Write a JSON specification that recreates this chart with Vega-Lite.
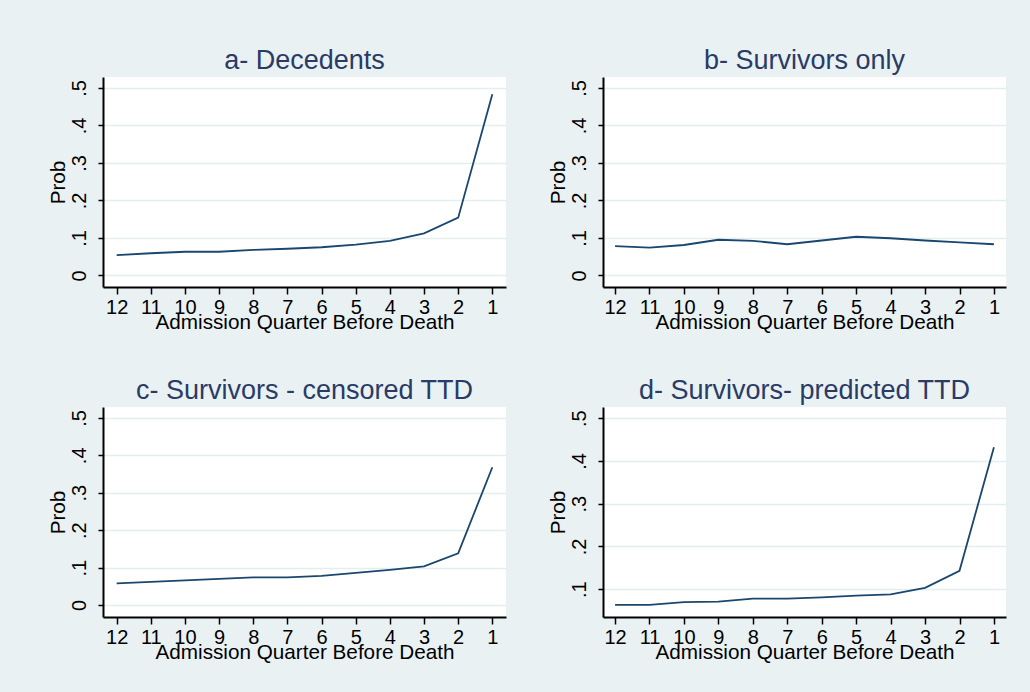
{
  "$schema": "https://vega.github.io/schema/vega-lite/v6.json",
  "background": "#e9f1f3",
  "padding": {"left": 47, "top": 46, "right": 26, "bottom": 30},
  "datasets": {
    "a": [
      {"q": 12, "prob": 0.054}, {"q": 11, "prob": 0.059}, {"q": 10, "prob": 0.063}, {"q": 9, "prob": 0.063},
      {"q": 8, "prob": 0.068}, {"q": 7, "prob": 0.071}, {"q": 6, "prob": 0.075}, {"q": 5, "prob": 0.082},
      {"q": 4, "prob": 0.092}, {"q": 3, "prob": 0.112}, {"q": 2, "prob": 0.154}, {"q": 1, "prob": 0.483}
    ],
    "b": [
      {"q": 12, "prob": 0.078}, {"q": 11, "prob": 0.074}, {"q": 10, "prob": 0.081}, {"q": 9, "prob": 0.095},
      {"q": 8, "prob": 0.092}, {"q": 7, "prob": 0.083}, {"q": 6, "prob": 0.093}, {"q": 5, "prob": 0.103},
      {"q": 4, "prob": 0.099}, {"q": 3, "prob": 0.093}, {"q": 2, "prob": 0.088}, {"q": 1, "prob": 0.083}
    ],
    "c": [
      {"q": 12, "prob": 0.058}, {"q": 11, "prob": 0.062}, {"q": 10, "prob": 0.066}, {"q": 9, "prob": 0.070},
      {"q": 8, "prob": 0.074}, {"q": 7, "prob": 0.074}, {"q": 6, "prob": 0.078}, {"q": 5, "prob": 0.086},
      {"q": 4, "prob": 0.094}, {"q": 3, "prob": 0.103}, {"q": 2, "prob": 0.138}, {"q": 1, "prob": 0.368}
    ],
    "d": [
      {"q": 12, "prob": 0.0635}, {"q": 11, "prob": 0.0635}, {"q": 10, "prob": 0.070}, {"q": 9, "prob": 0.071},
      {"q": 8, "prob": 0.078}, {"q": 7, "prob": 0.078}, {"q": 6, "prob": 0.081}, {"q": 5, "prob": 0.085},
      {"q": 4, "prob": 0.088}, {"q": 3, "prob": 0.103}, {"q": 2, "prob": 0.143}, {"q": 1, "prob": 0.432}
    ]
  },
  "columns": 2,
  "bounds": "flush",
  "spacing": {"column": 97, "row": 120},
  "concat": [
    {
      "width": 403, "height": 210,
      "title": {"text": "a- Decedents"},
      "data": {"name": "a"},
      "mark": {"type": "line"},
      "encoding": {
        "x": {"field": "q", "type": "quantitative", "title": "Admission Quarter Before Death",
              "scale": {"domain": [0.6, 12.4], "reverse": true, "nice": false, "zero": false}},
        "y": {"field": "prob", "type": "quantitative", "title": "Prob",
              "scale": {"domain": [-0.031, 0.529], "nice": false, "zero": false}}
      }
    },
    {
      "width": 403, "height": 210,
      "title": {"text": "b- Survivors only"},
      "data": {"name": "b"},
      "mark": {"type": "line"},
      "encoding": {
        "x": {"field": "q", "type": "quantitative", "title": "Admission Quarter Before Death",
              "scale": {"domain": [0.65, 12.35], "reverse": true, "nice": false, "zero": false}},
        "y": {"field": "prob", "type": "quantitative", "title": "Prob",
              "scale": {"domain": [-0.031, 0.529], "nice": false, "zero": false}}
      }
    },
    {
      "width": 403, "height": 210,
      "title": {"text": "c- Survivors - censored TTD"},
      "data": {"name": "c"},
      "mark": {"type": "line"},
      "encoding": {
        "x": {"field": "q", "type": "quantitative", "title": "Admission Quarter Before Death",
              "scale": {"domain": [0.6, 12.4], "reverse": true, "nice": false, "zero": false}},
        "y": {"field": "prob", "type": "quantitative", "title": "Prob",
              "scale": {"domain": [-0.032, 0.529], "nice": false, "zero": false}}
      }
    },
    {
      "width": 403, "height": 210,
      "title": {"text": "d- Survivors- predicted TTD"},
      "data": {"name": "d"},
      "mark": {"type": "line"},
      "encoding": {
        "x": {"field": "q", "type": "quantitative", "title": "Admission Quarter Before Death",
              "scale": {"domain": [0.65, 12.35], "reverse": true, "nice": false, "zero": false}},
        "y": {"field": "prob", "type": "quantitative", "title": "Prob",
              "scale": {"domain": [0.035, 0.526], "nice": false, "zero": false},
              "axis": {"values": [0.1, 0.2, 0.3, 0.4, 0.5]}}
      }
    }
  ],
  "config": {
    "font": "Liberation Sans",
    "view": {"fill": "white", "stroke": null},
    "line": {"color": "#1a476f", "strokeWidth": 1.8},
    "title": {"fontSize": 27, "fontWeight": "normal", "color": "#2a3b66", "font": "Liberation Sans",
              "baseline": "alphabetic", "offset": 2.5, "anchor": "middle"},
    "axis": {
      "domainColor": "#000000", "domainWidth": 2,
      "tickColor": "#000000", "tickWidth": 1.5,
      "labelColor": "#000000", "labelFontSize": 20, "labelFont": "Liberation Sans",
      "titleColor": "#000000", "titleFontSize": 20.7, "titleFont": "Liberation Sans", "titleFontWeight": "normal",
      "labelFlush": false, "labelOverlap": false
    },
    "axisX": {
      "values": [1, 2, 3, 4, 5, 6, 7, 8, 9, 10, 11, 12],
      "format": "d",
      "grid": false,
      "tickSize": 7,
      "labelBaseline": "alphabetic",
      "labelPadding": 19,
      "titleBaseline": "alphabetic",
      "titleX": 201.5,
      "titleY": 41,
      "titleAlign": "center"
    },
    "axisY": {
      "values": [0, 0.1, 0.2, 0.3, 0.4, 0.5],
      "labelExpr": "datum.value == 0 ? '0' : '.' + round(datum.value * 10)",
      "grid": true,
      "gridColor": "#e4eef0",
      "gridWidth": 1.5,
      "tickSize": 5,
      "labelAngle": 270,
      "labelAlign": "center",
      "labelBaseline": "alphabetic",
      "labelPadding": 13,
      "titleAngle": 270,
      "titleBaseline": "alphabetic",
      "titleAlign": "center",
      "titleX": -39,
      "titleY": 105
    }
  }
}
